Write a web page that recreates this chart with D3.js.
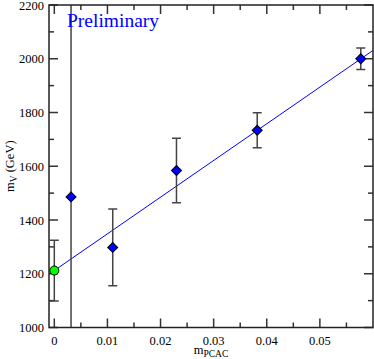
<!DOCTYPE html>
<html>
<head>
<meta charset="utf-8">
<script src="https://cdn.jsdelivr.net/npm/d3@7"></script>
<style>
  body { margin: 0; background: #fff; }
  svg text { font-family: "Liberation Serif", "DejaVu Serif", serif; }
</style>
</head>
<body>
<svg id="chart" width="374" height="359"></svg>
<script>
// data
const mPcac = [0, 0.00315, 0.011, 0.023, 0.0382, 0.0577];
const mV = [1212, 1486, 1298, 1584, 1734, 2000];
const mVErr = [113, 1000, 143, 120, 65, 40];
const extrapolated = [true, false, false, false, false, false];

const fitIntercept = 1212;
const fitSlope = 13650;

const xTicks = [0, 0.01, 0.02, 0.03, 0.04, 0.05];
const xMinor = [0.005, 0.015, 0.025, 0.035, 0.045, 0.055];
const yTicks = [1000, 1200, 1400, 1600, 1800, 2000, 2200];
const yMinor = [1100, 1300, 1500, 1700, 1900, 2100];

const svg = d3.select("#chart");
const pLeft = 49, pRight = 373, pTop = 5, pBottom = 327.5;

const x = d3.scaleLinear().domain([-0.001, 0.06]).range([pLeft, pRight]);
const y = d3.scaleLinear().domain([1000, 2200]).range([pBottom, pTop]);

svg.append("defs").append("clipPath").attr("id", "plot")
    .append("rect").attr("x", pLeft).attr("y", pTop)
    .attr("width", pRight - pLeft).attr("height", pBottom - pTop);

const tickColor = "#333";
const major = 9, minor = 5;

// ticks (inward, mirrored on all four sides)
function xTickMarks(vals, len) {
    vals.forEach(v => {
        svg.append("line").attr("x1", x(v)).attr("x2", x(v))
            .attr("y1", pBottom).attr("y2", pBottom - len)
            .attr("stroke", tickColor).attr("stroke-width", 1.5);
        svg.append("line").attr("x1", x(v)).attr("x2", x(v))
            .attr("y1", pTop).attr("y2", pTop + len)
            .attr("stroke", tickColor).attr("stroke-width", 1.5);
    });
}
function yTickMarks(vals, len) {
    vals.forEach(v => {
        svg.append("line").attr("x1", pLeft).attr("x2", pLeft + len)
            .attr("y1", y(v)).attr("y2", y(v))
            .attr("stroke", tickColor).attr("stroke-width", 1.5);
        svg.append("line").attr("x1", pRight).attr("x2", pRight - len)
            .attr("y1", y(v)).attr("y2", y(v))
            .attr("stroke", tickColor).attr("stroke-width", 1.5);
    });
}
xTickMarks(xTicks, major);
xTickMarks(xMinor, minor);
yTickMarks(yTicks, major);
yTickMarks(yMinor, minor);

// tick labels
svg.selectAll(".xl").data(xTicks).enter().append("text")
    .attr("x", d => x(d)).attr("y", 345)
    .attr("text-anchor", "middle").style("font-size", "12.5px")
    .text(d => d === 0 ? "0" : d3.format(".2f")(d));

svg.selectAll(".yl").data(yTicks).enter().append("text")
    .attr("x", 44).attr("y", d => y(d) + 4.5)
    .attr("text-anchor", "end").style("font-size", "12.5px")
    .text(d => d);

// fit line
const g = svg.append("g").attr("clip-path", "url(#plot)");
g.append("line")
    .attr("x1", x(0)).attr("y1", y(fitIntercept))
    .attr("x2", x(0.06)).attr("y2", y(fitIntercept + fitSlope * 0.06))
    .attr("stroke", "#0000ff").attr("stroke-width", 1);

// error bars
const errColor = "#444";
mPcac.forEach((d, i) => {
    const lo = mV[i] - mVErr[i], hi = mV[i] + mVErr[i];
    g.append("line").attr("x1", x(d)).attr("x2", x(d))
        .attr("y1", y(lo)).attr("y2", y(hi))
        .attr("stroke", errColor).attr("stroke-width", 1.5);
    [lo, hi].forEach(v => {
        g.append("line").attr("x1", x(d) - 4.5).attr("x2", x(d) + 4.5)
            .attr("y1", y(v)).attr("y2", y(v))
            .attr("stroke", errColor).attr("stroke-width", 1.5);
    });
});

// points
mPcac.forEach((d, i) => {
    if (extrapolated[i]) {
        g.append("circle").attr("cx", x(d)).attr("cy", y(mV[i])).attr("r", 4.5)
            .attr("fill", "#00ff00").attr("stroke", "#000").attr("stroke-width", 1);
    } else {
        g.append("path")
            .attr("d", d3.symbol().type(d3.symbolSquare).size(50)())
            .attr("transform", `translate(${x(d)},${y(mV[i])}) rotate(45)`)
            .attr("fill", "#0000ff").attr("stroke", "#000").attr("stroke-width", 1);
    }
});

// frame
svg.append("rect").attr("x", pLeft).attr("y", pTop)
    .attr("width", pRight - pLeft).attr("height", pBottom - pTop)
    .attr("fill", "none").attr("stroke", "#222").attr("stroke-width", 1.5);

// labels
svg.append("text").attr("x", 67).attr("y", 27)
    .attr("fill", "#0000ff").style("font-size", "19.5px")
    .text("Preliminary");

const xl = svg.append("text").attr("x", (pLeft + pRight) / 2).attr("y", 354)
    .attr("text-anchor", "middle").style("font-size", "12.5px");
xl.append("tspan").text("m");
xl.append("tspan").attr("dy", 3).style("font-size", "9.5px").text("PCAC");

const yl = svg.append("text")
    .attr("transform", `translate(14,${(pTop + pBottom) / 2}) rotate(-90)`)
    .attr("text-anchor", "middle").style("font-size", "12.5px");
yl.append("tspan").text("m");
yl.append("tspan").attr("dy", 3).style("font-size", "9.5px").text("V");
yl.append("tspan").attr("dy", -3).text(" (GeV)");
</script>
</body>
</html>
